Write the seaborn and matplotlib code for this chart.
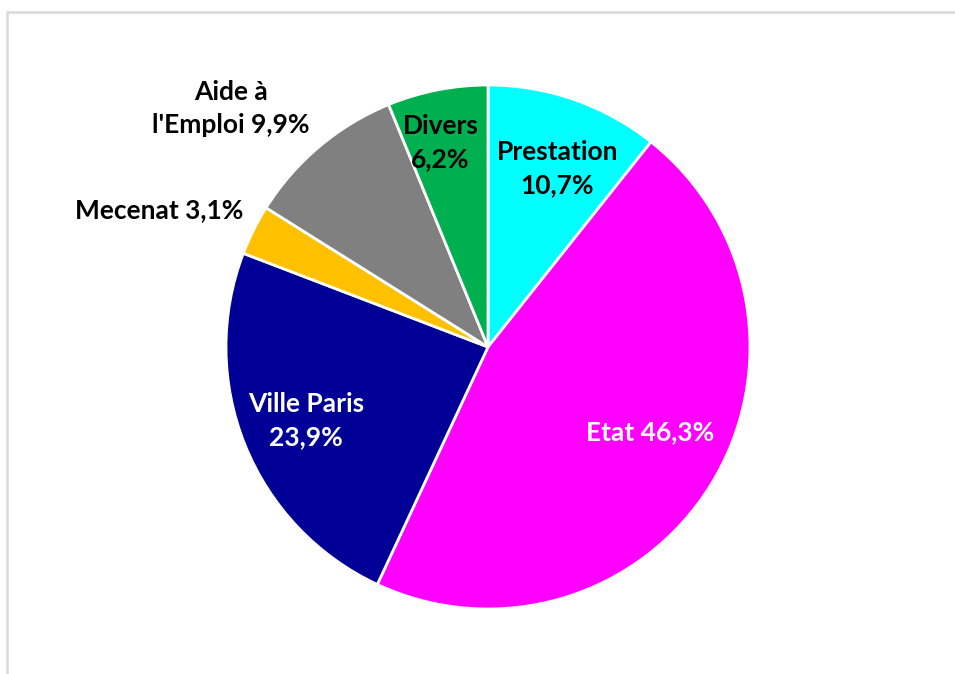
import numpy as np
import matplotlib
matplotlib.use("Agg")
import matplotlib.pyplot as plt
import seaborn as sns
from matplotlib.patches import Rectangle

categories = ["Prestation", "Etat", "Ville Paris", "Mecenat", "Aide à\nl'Emploi", "Divers"]
shares = [10.7, 46.3, 23.9, 3.1, 9.9, 6.2]
colors = ["#00FFFF", "#FF00FF", "#000096", "#FFC000", "#808080", "#00B050"]
text_colors = ["black", "white", "white", "black", "black", "black"]

sns.set_theme(style="white")
plt.rcParams["font.family"] = ["Lato", "DejaVu Sans"]

W, H = 955, 674
fig = plt.figure(figsize=(W / 100, H / 100), dpi=100)
ax = fig.add_axes([0, 0, 1, 1])

# pie centre and radius in pixels
cx, cy, r = 488, 347, 262
wedges, _ = ax.pie(shares, colors=sns.color_palette(colors), startangle=90,
                   counterclock=False, radius=1,
                   wedgeprops=dict(edgecolor="white", linewidth=2))
ax.set_xlim(-cx / r, (W - cx) / r)
ax.set_ylim(-(H - cy) / r, cy / r)
ax.set_aspect("equal")
ax.axis("off")

# label layout: radius, angle tweak (deg)
label_r = [0.73, 0.70, 0.75, 1.36, 1.34, 0.80]
label_dt = [-2, 4, 0, 4, 7, 2]
label_text = [
    "Prestation\n10,7%",
    "Etat 46,3%",
    "Ville Paris\n23,9%",
    "Mecenat 3,1%",
    "Aide à\nl'Emploi 9,9%",
    "Divers\n6,2%",
]
for w, lr, dt, txt, tc in zip(wedges, label_r, label_dt, label_text, text_colors):
    mid = np.deg2rad((w.theta1 + w.theta2) / 2 + dt)
    ax.text(lr * np.cos(mid), lr * np.sin(mid), txt, ha="center", va="center",
            color=tc, fontsize=19, fontweight="bold", linespacing=1.45)

# chart frame (partly cropped)
fig.patches.append(Rectangle((7 / W, -0.1), 2, (H - 12) / H + 0.1,
                             transform=fig.transFigure, fill=False,
                             edgecolor="#d9d9d9", linewidth=1.8))

fig.savefig("out.png", dpi=100, facecolor="white")
